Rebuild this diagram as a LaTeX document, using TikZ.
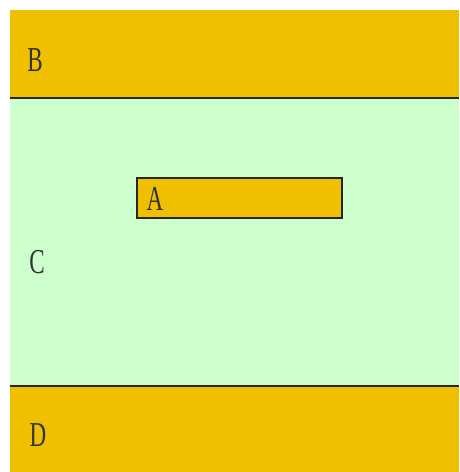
\documentclass[tikz,border=0pt]{standalone}
\usepackage{fontspec}
\setmainfont{Liberation Serif}
\definecolor{band}{HTML}{F0C000}
\definecolor{mid}{HTML}{CCFFCC}
\tikzset{
  lbl/.style={inner sep=0pt, font=\fontsize{35}{40}\selectfont, text=black!80},
  edge/.style={line width=2pt, draw=black!85}
}
\newcommand{\narrow}[1]{\scalebox{0.66}[1]{#1}}
\begin{document}
\begin{tikzpicture}[x=1pt,y=-1pt]
\useasboundingbox (0,0) rectangle (459,472);
\fill[white] (0,0) rectangle (459,472);
\fill[band] (10,10) rectangle (459,97.5);
\fill[mid] (10,97.5) rectangle (459,386);
\fill[band] (10,386) rectangle (459,472);
\coordinate (l1) at (10,97.5);
\coordinate (r1) at (459,97.5);
\coordinate (l2) at (10,386);
\coordinate (r2) at (459,386);
\draw[edge] (l1) -- (r1);
\draw[edge] (l2) -- (r2);
\node[draw=black!85, line width=2pt, fill=band, minimum width=205pt, minimum height=40pt, inner sep=0pt, anchor=north west] (boxA) at (136,177) {};
\node[lbl] (A) at (155,199) {\narrow{A}};
\node[lbl] (B) at (35,60) {\narrow{B}};
\node[lbl] (C) at (37,262) {\narrow{C}};
\node[lbl] (D) at (38,435) {\narrow{D}};
\end{tikzpicture}
\end{document}
